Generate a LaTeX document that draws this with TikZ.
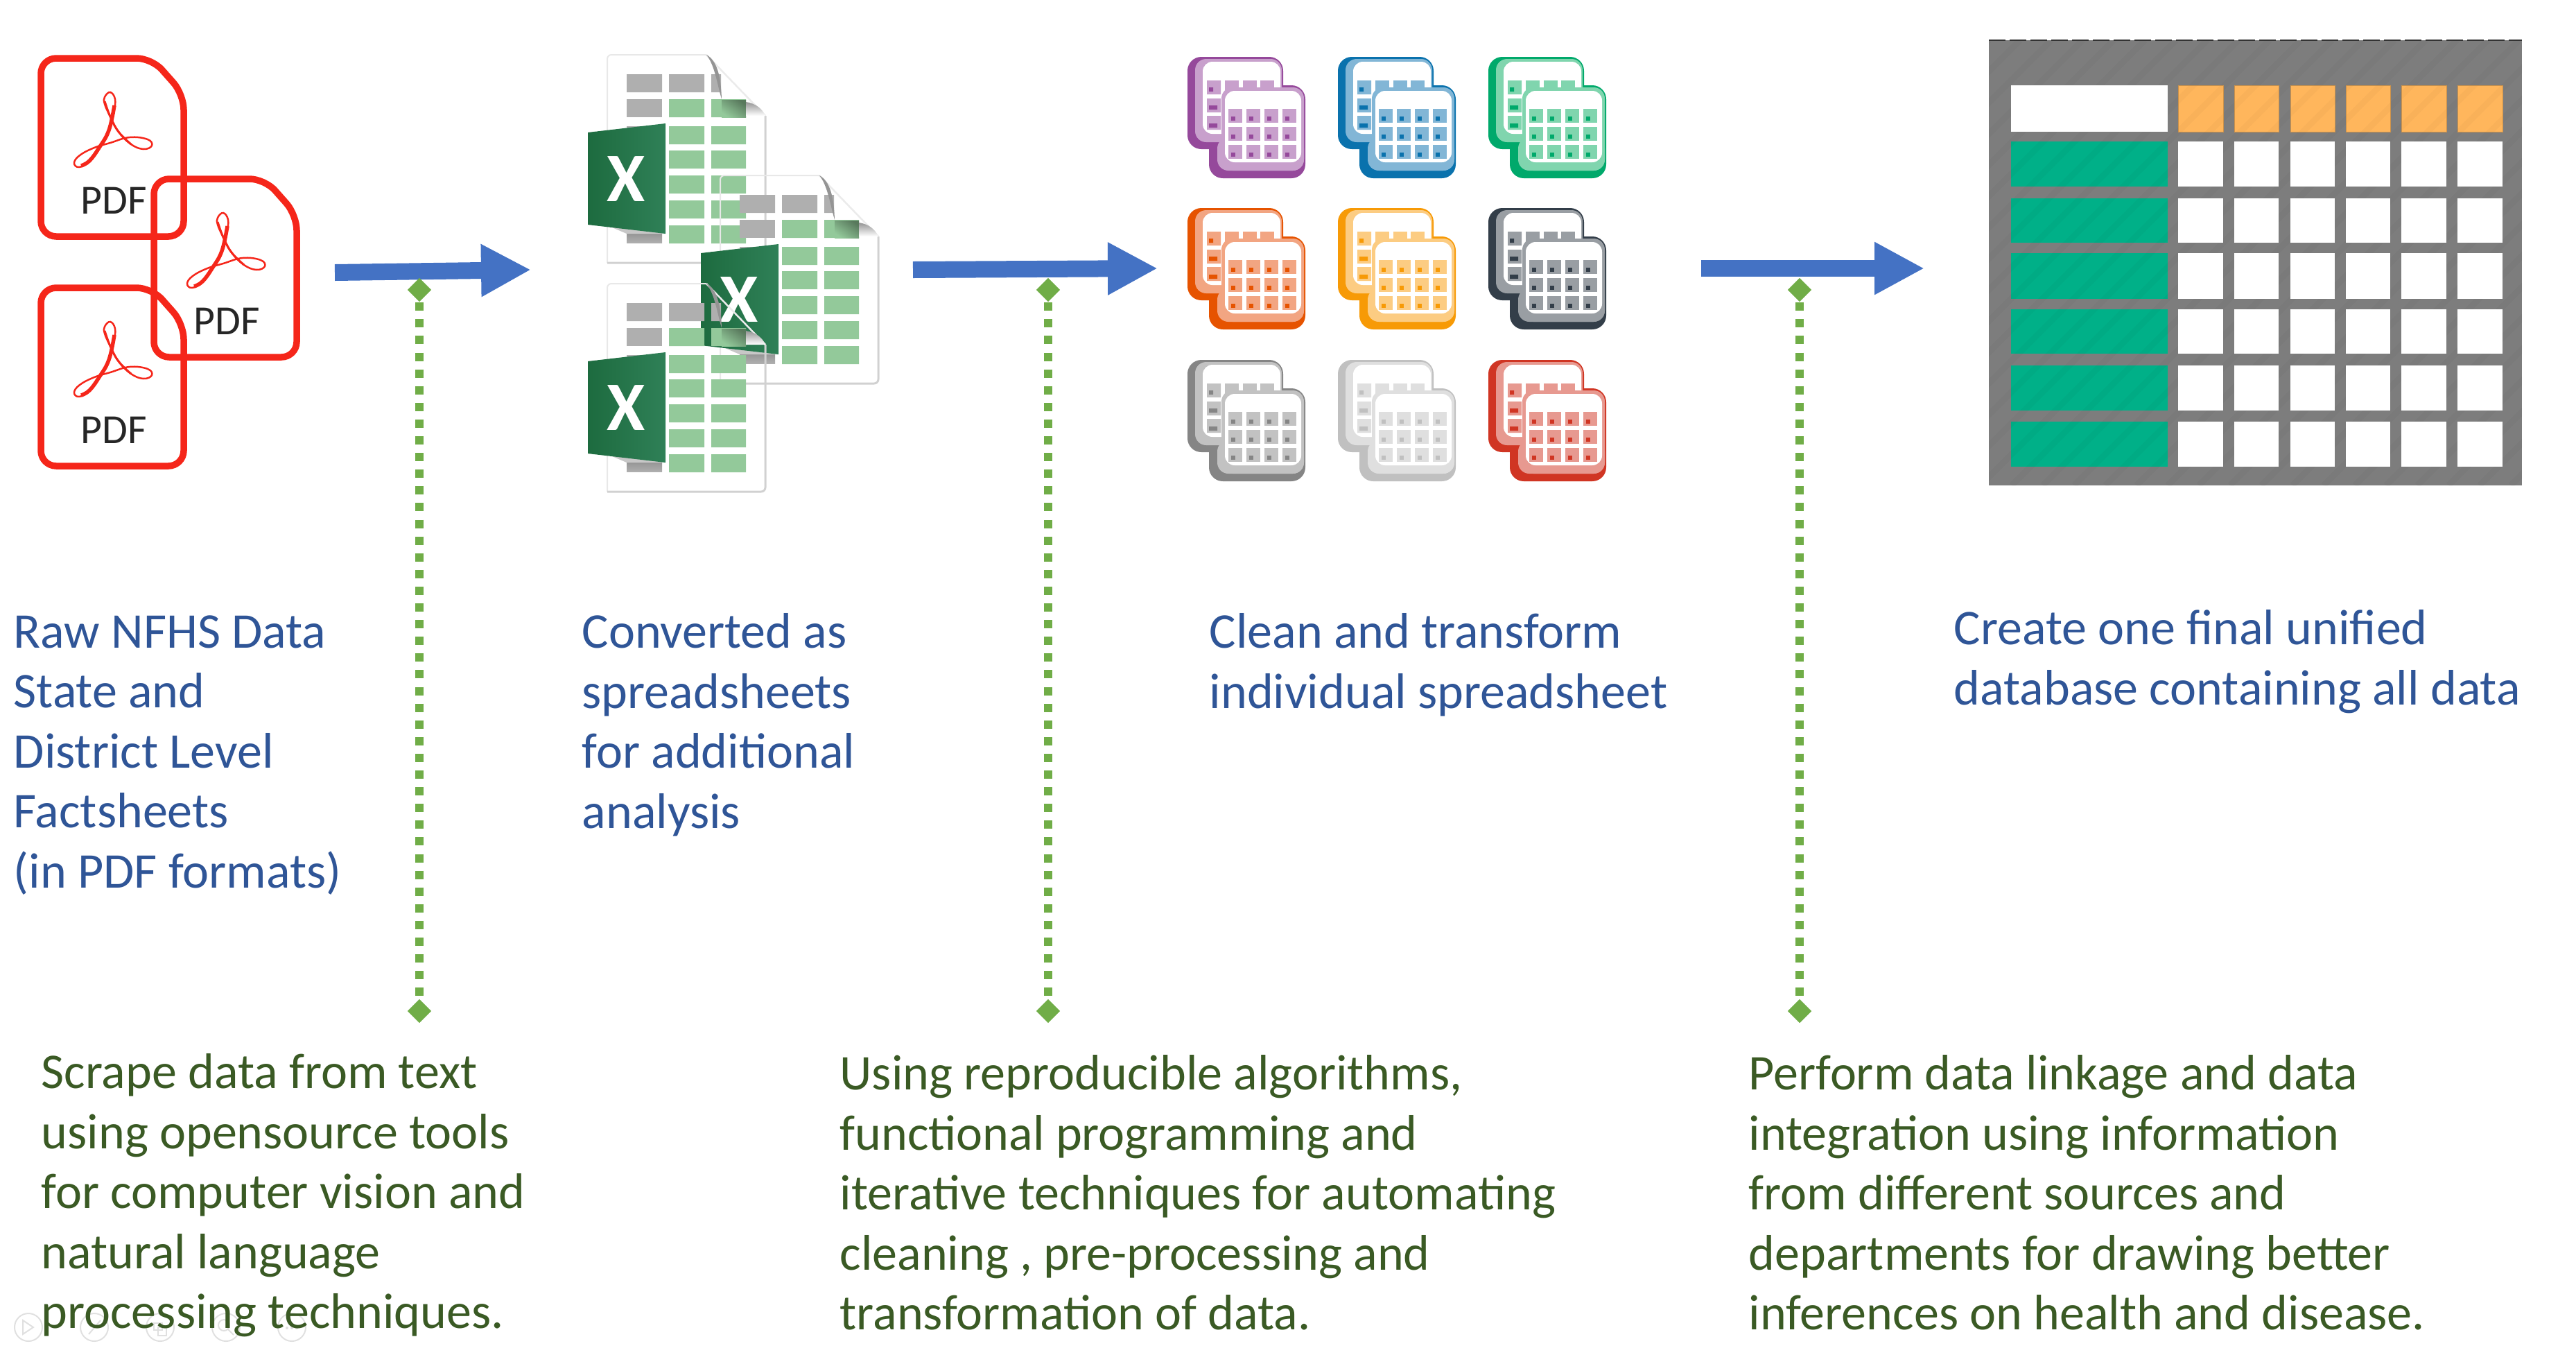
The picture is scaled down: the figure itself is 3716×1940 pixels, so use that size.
\documentclass[tikz,border=0pt]{standalone}
\usepackage{fontspec}
\setmainfont{Carlito}
\usetikzlibrary{arrows.meta,shapes.geometric}

\definecolor{flowblue}{HTML}{4472C4}
\definecolor{dotgreen}{HTML}{70AD47}
\definecolor{stepblue}{HTML}{2F5597}
\definecolor{notegreen}{HTML}{3A5A24}
\definecolor{pdfred}{HTML}{F5261A}
\definecolor{cellgreen}{HTML}{93C99A}
\definecolor{cellgrey}{HTML}{AFAFAF}
\definecolor{xldark}{HTML}{1D6B3F}
\definecolor{xllight}{HTML}{2F8057}
\definecolor{tabgrey}{HTML}{7D7D7D}
\definecolor{tabgreen}{HTML}{00B088}
\definecolor{taborange}{HTML}{FFB65C}
\definecolor{iAd}{HTML}{95499B}\definecolor{iAl}{HTML}{C8A0CC}
\definecolor{iBd}{HTML}{0A72AD}\definecolor{iBl}{HTML}{82B6D6}
\definecolor{iCd}{HTML}{00A96B}\definecolor{iCl}{HTML}{80D5AE}
\definecolor{iDd}{HTML}{E65300}\definecolor{iDl}{HTML}{F2A582}
\definecolor{iEd}{HTML}{F79A06}\definecolor{iEl}{HTML}{FCCC82}
\definecolor{iFd}{HTML}{333E49}\definecolor{iFl}{HTML}{999EA3}
\definecolor{iGd}{HTML}{858585}\definecolor{iGl}{HTML}{C2C2C2}
\definecolor{iHd}{HTML}{C0C0C0}\definecolor{iHl}{HTML}{DFDFDF}
\definecolor{iId}{HTML}{D03523}\definecolor{iIl}{HTML}{E79990}

\tikzset{
  flowarrow/.style={draw=flowblue,line width=2.4mm,-{Triangle[length=7.2mm,width=7.1mm]}},
  dotlink/.style={draw=dotgreen,line width=1.2mm,dash pattern=on 1.2mm off 1.21mm},
  endmark/.style={diamond,fill=dotgreen,minimum width=3.5mm,minimum height=3.5mm,inner sep=0pt},
  steptext/.style={anchor=north west,align=left,inner sep=0pt,text=stepblue,font=\fontsize{20.5}{24.6}\selectfont},
  notetext/.style={anchor=north west,align=left,inner sep=0pt,text=notegreen,font=\fontsize{20.5}{24.6}\selectfont},
  pdfline/.style={draw=pdfred,line width=0.95mm,rounded corners=2.2mm},
  toolring/.style={draw=black!12,line width=0.2mm}
}

\begin{document}
\begin{tikzpicture}[x=0.1mm,y=-0.1mm]
\useasboundingbox (0,0) rectangle (3716,1940);

\coordinate (a0) at (483,393);
\coordinate (a1) at (766,389);
\coordinate (a2) at (1317,389);
\coordinate (a3) at (1670,387);
\coordinate (a4) at (2454,387);
\coordinate (a5) at (2776,387);

% pdf files
\foreach \dx/\dy/\dn in {59/84/a,222/258/b,59/415/c}{
\begin{scope}[shift={(\dx,\dy)}]
  \draw[pdfline] (0,0) -- (160,0) -- (206,52) -- (206,257) -- (0,257) -- cycle;
  \draw[pdfred,line width=0.25mm] plot[smooth cycle,tension=0.7] coordinates {
    (100,49) (107,59) (105,77) (97,104) (84,129) (69,149) (55,157) (48,151) (56,140)
    (77,129) (100,122) (128,114) (154,117) (160,126) (148,131) (130,124) (112,106)
    (100,84) (92,66) (92,56)};
  \draw[pdfred,line width=0.55mm] plot[smooth,tension=0.7] coordinates {(106,68) (98,104) (84,129) (70,148) (58,155)};
  \draw[pdfred,line width=0.3mm] plot[smooth,tension=0.7] coordinates {(92,62) (100,84) (112,106) (130,124)};
  \node[text=black!85,font=\fontsize{17}{17}\selectfont] (pdf\dn) at (105,205) {PDF};
\end{scope}
}

% spreadsheet files
\foreach \dx/\dy/\dn in {876/79/a,1039/253/b,876/409/c}{
\begin{scope}[shift={(\dx,\dy)}]
  \draw[black!9,line width=0.2mm,rounded corners=0.6mm] (143,0) -- (0,0) -- (0,300);
  \draw[black!18,line width=0.3mm,rounded corners=0.6mm] (0,300) -- (228,300) -- (228,88);
  \draw[black!8,line width=0.25mm] (143,0) -- (228,88);
  \fill[cellgrey] (28,28) rectangle (79,54) (89,28) rectangle (140,54) (150,28) rectangle (164,54);
  \fill[cellgrey] (28,64) rectangle (79,90);
  \fill[cellgrey] (28,103) rectangle (79,128);
  \shade[top color=black!50,bottom color=cellgrey] (28,246) rectangle (79,271);
  \foreach \ry in {64,103,138,174,210,246}{
    \fill[cellgreen] (89,\ry) rectangle (140,\ry+26) (150,\ry) rectangle (200,\ry+26);
  }
  \shade[shading=axis,top color=black!40!cellgreen,bottom color=cellgreen,shading angle=-35] (165,65) rectangle (200,90);
  \fill[black!42] (143,0) .. controls (158,8) and (164,30) .. (165,64) .. controls (158,40) and (155,15) .. (143,0);
  \shade[top color=black!42,bottom color=white] (200,68) .. controls (214,70) and (224,78) .. (228,88) -- (200,88) -- cycle;
  \fill[black!22] (0,246) -- (84,258) -- (28,258) -- cycle;
  \shade[left color=xldark,right color=xllight] (-28,112) -- (84,99) -- (84,258) -- (-28,245) -- cycle;
  \node[text=white,font=\bfseries\fontsize{28.5}{28.5}\selectfont] (xl\dn) at (27,179) {X};
\end{scope}
}

% table icons
\foreach \ix/\iy/\ic in {1713/82/A,1930/82/B,2147/82/C,1713/300/D,1930/300/E,2147/300/F,1713/519/G,1930/519/H,2147/519/I}{
\begin{scope}[shift={(\ix,\iy)}]
  \fill[i\ic d,rounded corners=2mm] (0,0) rectangle (138,133);
  \fill[i\ic d,rounded corners=2mm] (31,41) rectangle (170,175);
  \fill[i\ic l,rounded corners=1.6mm] (11,3) rectangle (136,123);
  \fill[white,rounded corners=1.4mm] (22,7) rectangle (134,111);
  \fill[i\ic l] (28,34) rectangle (48,54) (28,60) rectangle (48,80) (28,85) rectangle (48,105);
  \fill[i\ic d] (31,44) rectangle (37,50) (31,70) rectangle (43,76) (31,96) rectangle (43,102);
  \foreach \cx in {54,80,105}{
    \fill[i\ic l] (\cx,34) rectangle (\cx+20,50);
  }
  \fill[i\ic l,rounded corners=1.6mm] (49,44) rectangle (168,164);
  \fill[i\ic l,rounded corners=1.6mm] (43,116) rectangle (168,164);
  \fill[white,rounded corners=1.4mm] (54,49) rectangle (164,152);
  \foreach \cx in {59,85,111,137}{
    \foreach \cy in {75,101,127}{
      \fill[i\ic l] (\cx,\cy) rectangle (\cx+20,\cy+20);
      \fill[i\ic d] (\cx+4,\cy+11) rectangle (\cx+10,\cy+17);
    }
  }
\end{scope}
}

% final table
\fill[tabgrey] (2869,58) rectangle (3638,700);
\foreach \cx/\cz in {3142/3207,3223/3287,3304/3368,3384/3448,3464/3529,3545/3610}{
  \fill[taborange] (\cx,123) rectangle (\cz,190);
}
\foreach \ry/\rz in {204/269,286/350,365/431,446/510,527/592,608/673}{
  \fill[tabgreen] (2901,\ry) rectangle (3127,\rz);
}
\begin{scope}
  \clip (2869,58) rectangle (3638,700);
  \foreach \sx in {2869,2914,...,4400}{
    \draw[black,opacity=0.025,line width=0.9mm] (\sx,58) -- (\sx-642,700);
  }
\end{scope}
\foreach \cx/\cz in {3142/3207,3223/3287,3304/3368,3384/3448,3464/3529,3545/3610}{
  \draw[taborange!80!black,line width=0.1mm] (\cx,123) rectangle (\cz,190);
}
\fill[white] (2901,123) rectangle (3127,190);
\foreach \ry/\rz in {204/269,286/350,365/431,446/510,527/592,608/673}{
  \foreach \cx/\cz in {3142/3207,3223/3287,3304/3368,3384/3448,3464/3529,3545/3610}{
    \fill[white] (\cx,\ry) rectangle (\cz,\rz);
  }
}
\draw[black!80,line width=0.17mm,dash pattern=on 2.4mm off 0.6mm] (2869,58) -- (3638,58);

% slide controls
\foreach \tx in {41,136,231,326,421}{
  \draw[toolring] (\tx,1914) circle (20);
}
\draw[toolring] (33,1904) -- (48,1914) -- (33,1924) -- cycle;
\draw[toolring] (128,1924) -- (145,1904);
\draw[toolring] (222,1908) rectangle (234,1918) (228,1914) rectangle (240,1926);
\draw[toolring] (323,1911) circle (8) (329,1917) -- (337,1925);
\fill[black!12] (414,1915) circle (2) (421,1915) circle (2) (428,1915) circle (2);

\draw[flowarrow] (a0) -- (a1);
\draw[flowarrow] (a2) -- (a3);
\draw[flowarrow] (a4) -- (a5);

\node[endmark] (d0) at (605,418) {};
\node[endmark] (d1) at (605,1458) {};
\node[endmark] (d2) at (1512,418) {};
\node[endmark] (d3) at (1512,1458) {};
\node[endmark] (d4) at (2596,418) {};
\node[endmark] (d5) at (2596,1458) {};
\draw[dotlink] (d0) -- (d1);
\draw[dotlink] (d2) -- (d3);
\draw[dotlink] (d4) -- (d5);

\node[steptext] (raw) at (19,887) {Raw NFHS Data\\State and\\District Level\\Factsheets\\(in PDF formats)};
\node[steptext] (conv) at (839,884) {Converted as\\spreadsheets\\for additional\\analysis};
\node[steptext] (clean) at (1744,884) {Clean and transform\\individual spreadsheet};
\node[steptext] (final) at (2818,879) {Create one final unified\\database containing all data};
\node[notetext] (scrape) at (59,1519) {Scrape data from text\\using opensource tools\\for computer vision and\\natural language\\processing techniques.};
\node[notetext] (algo) at (1211,1521) {Using reproducible algorithms,\\functional programming and\\iterative techniques for automating\\cleaning , pre-processing and\\transformation of data.};
\node[notetext] (link) at (2522,1521) {Perform data linkage and data\\integration using information\\from different sources and\\departments for drawing better\\inferences on health and disease.};
\end{tikzpicture}
\end{document}
